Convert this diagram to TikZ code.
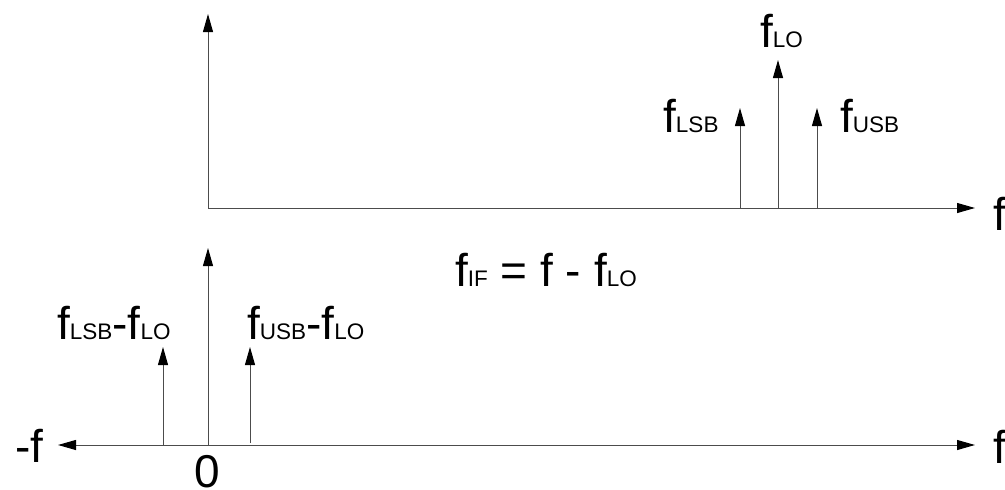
\documentclass[tikz,border=0pt]{standalone}
\usepackage{fontspec}
\setmainfont{Liberation Sans}
\usetikzlibrary{arrows.meta}
\newcommand\mainfs{\fontsize{46}{50}\selectfont}
\newcommand\subfs{\fontsize{22.5}{24}\selectfont}
\newcommand\fsb[1]{f{\subfs #1}}
\begin{document}
\begin{tikzpicture}[x=1pt,y=-1pt,
  axis/.style={draw=black!70, line width=1pt},
  arr/.style={axis, arrows={-Triangle[length=18pt 0 1,width=10pt 0 1,color=black]}},
  lbl/.style={anchor=base west, inner sep=0pt, font=\mainfs}]
\useasboundingbox (0,0) rectangle (1005,490);
% top spectrum
\coordinate (o1) at (208,208);
\coordinate (ytop) at (208,14);
\coordinate (xtop) at (975,208);
\draw[arr] (o1) -- (ytop);
\draw[arr] (o1) -- (xtop);
\coordinate (lsbB) at (740,208); \coordinate (lsbT) at (740,108);
\coordinate (loB) at (778,208);  \coordinate (loT) at (778,60);
\coordinate (usbB) at (817,208); \coordinate (usbT) at (817,108);
\draw[arr] (lsbB) -- (lsbT);
\draw[arr] (loB) -- (loT);
\draw[arr] (usbB) -- (usbT);
\node[lbl] (tLO) at (760,47) {\fsb{LO}};
\node[lbl] (tLSB) at (663,132) {\fsb{LSB}};
\node[lbl] (tUSB) at (840,132) {\fsb{USB}};
\node[lbl] (tf1) at (993,230) {f};
% equation
\node[lbl] (eq) at (455,286) {\fsb{IF} = f - \fsb{LO}};
% bottom spectrum
\coordinate (o2) at (208,445);
\coordinate (ybot) at (208,248);
\coordinate (xleft) at (58,445);
\coordinate (xright) at (975,445);
\draw[arr] (o2) -- (ybot);
\draw[arr] (o2) -- (xleft);
\draw[arr] (o2) -- (xright);
\coordinate (nB) at (163,445); \coordinate (nT) at (163,347);
\coordinate (pB) at (250,443); \coordinate (pT) at (250,347);
\draw[arr] (nB) -- (nT);
\draw[arr] (pB) -- (pT);
\node[lbl] (tN) at (57,339) {\fsb{LSB}-\fsb{LO}};
\node[lbl] (tP) at (247,339) {\fsb{USB}-\fsb{LO}};
\node[lbl] (tmf) at (15,462) {-f};
\node[anchor=base, inner sep=0pt, font=\mainfs] (zero) at (207,487) {0};
\node[lbl] (tf2) at (993,463) {f};
\end{tikzpicture}
\end{document}
